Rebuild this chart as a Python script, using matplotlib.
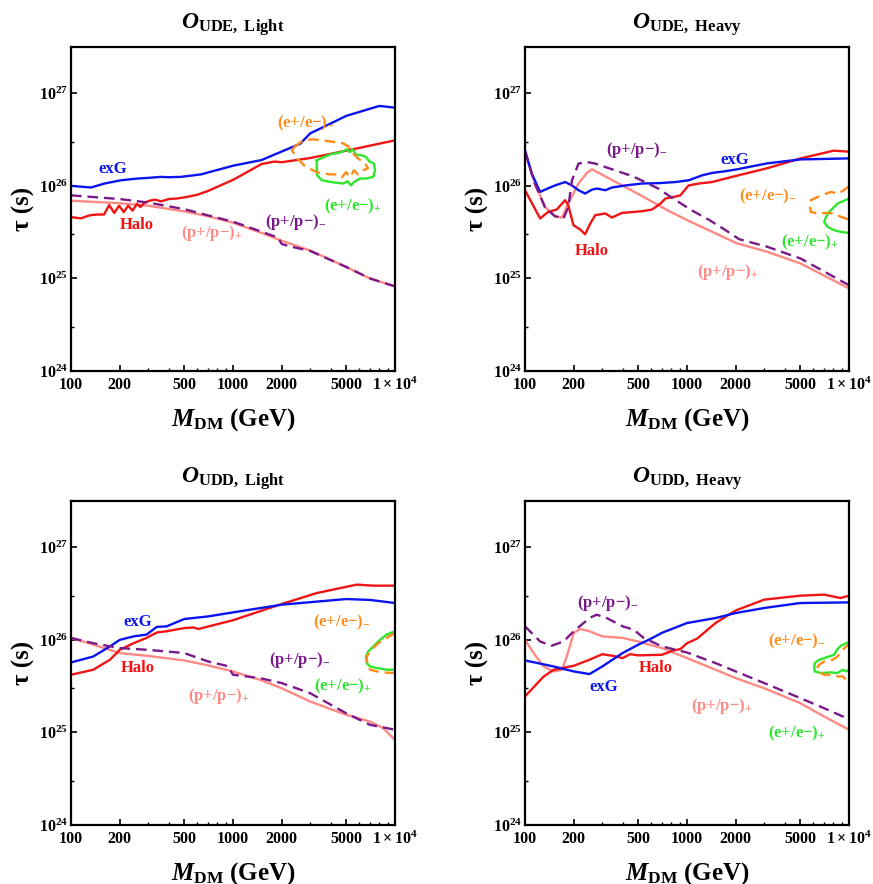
import numpy as np
import matplotlib
matplotlib.use('Agg')
import matplotlib.pyplot as plt
from matplotlib.ticker import NullFormatter

plt.rcParams['font.family'] = 'Liberation Serif'
plt.rcParams['font.weight'] = 'bold'
plt.rcParams['mathtext.fontset'] = 'custom'
plt.rcParams['mathtext.rm'] = 'Liberation Serif:bold'
plt.rcParams['mathtext.it'] = 'Liberation Serif:italic:bold'
plt.rcParams['mathtext.bf'] = 'Liberation Serif:bold'

# colours
c_exg = '#0a14f0'
c_halo = '#f01414'
c_pp_plus = '#ff8a85'
c_pp_minus = '#7a1a8a'
c_ee_minus = '#ff8c1a'
c_ee_plus = '#2ee62e'

# ---------------- O_UDE, Light ----------------
ude_l_exg_m = [100, 133, 161, 204, 258, 300, 359, 400, 477, 634, 1000, 1500, 2000, 2600, 3000, 3300, 5000, 8000, 10000]
ude_l_exg_t = [1.0e26, 9.6e25, 1.06e26, 1.15e26, 1.2e26, 1.22e26, 1.25e26, 1.24e26, 1.25e26, 1.33e26, 1.65e26, 1.9e26,
               2.35e26, 2.85e26, 3.7e26, 4.0e26, 5.7e26, 7.3e26, 7.0e26]
ude_l_halo_m = [100, 115, 130, 145, 160, 172, 185, 198, 212, 225, 240, 255, 268, 285, 305, 330, 360, 400, 450, 500,
                600, 700, 1000, 1500, 1800, 2000, 3000, 5000, 10000]
ude_l_halo_t = [4.6e25, 4.45e25, 4.8e25, 4.9e25, 4.9e25, 6.2e25, 5.1e25, 6.1e25, 5.2e25, 6.1e25, 5.4e25, 6.4e25,
                5.9e25, 6.6e25, 6.9e25, 7.1e25, 6.8e25, 7.2e25, 7.3e25, 7.5e25, 8.0e25, 8.8e25, 1.16e26, 1.72e26,
                1.83e26, 1.8e26, 2.0e26, 2.4e26, 3.1e26]
ude_l_ppp_m = [100, 200, 300, 500, 700, 1000, 1500, 2000, 3000, 5000, 7000, 10000]
ude_l_ppp_t = [6.9e25, 6.5e25, 6.1e25, 5.3e25, 4.7e25, 4.0e25, 3.1e25, 2.55e25, 2.0e25, 1.33e25, 1.0e25, 8.2e24]
ude_l_ppm_m = [100, 200, 300, 500, 700, 1000, 1500, 1900, 2000, 2300, 3000, 5000, 7000, 10000]
ude_l_ppm_t = [7.9e25, 7.2e25, 6.6e25, 5.6e25, 4.8e25, 4.1e25, 3.2e25, 2.75e25, 2.35e25, 2.2e25, 1.98e25, 1.33e25,
               1.0e25, 8.2e24]
ude_l_eem_m = [2380, 2705, 3118, 3970, 4775, 5129, 5427, 5910, 6531, 6812, 6345, 5910, 5582, 5275, 4985, 4709, 4447,
               3970, 3301, 2782, 2485, 2313, 2380]
ude_l_eem_t = [2.61e26, 3.10e26, 3.18e26, 3.03e26, 2.88e26, 2.68e26, 2.30e26, 1.98e26, 1.75e26, 1.55e26, 1.47e26,
               1.33e26, 1.47e26, 1.24e26, 1.40e26, 1.24e26, 1.33e26, 1.33e26, 1.40e26, 1.63e26, 1.98e26, 2.42e26,
               2.61e26]
ude_l_eep_m = [3288, 3970, 4690, 5030, 5275, 5480, 5745, 6225, 6620, 6940, 7415, 7530, 7345, 6620, 6080, 5580, 5350,
               5105, 4795, 4160, 3530, 3310, 3288, 3288]
ude_l_eep_t = [1.89e26, 2.18e26, 2.32e26, 2.48e26, 2.32e26, 2.48e26, 2.18e26, 2.14e26, 2.05e26, 1.84e26, 1.74e26,
               1.47e26, 1.25e26, 1.20e26, 1.20e26, 1.10e26, 1.01e26, 1.12e26, 1.06e26, 1.09e26, 1.15e26, 1.30e26,
               1.60e26, 1.89e26]

# ---------------- O_UDE, Heavy ----------------
ude_h_exg_m = [100, 110, 124, 133, 153, 177, 195, 214, 235, 259, 278, 313, 344, 416, 528, 669, 849, 1026, 1242, 1432,
               1731, 2040, 3125, 5025, 10000]
ude_h_exg_t = [2.42e26, 1.36e26, 8.6e25, 9.1e25, 1.01e26, 1.10e26, 1.01e26, 8.97e25, 8.26e25, 9.1e25, 9.35e25,
               8.97e25, 9.6e25, 1.01e26, 1.06e26, 1.07e26, 1.10e26, 1.15e26, 1.30e26, 1.38e26, 1.44e26, 1.51e26,
               1.75e26, 1.93e26, 1.98e26]
ude_h_halo_m = [100, 124, 139, 157, 177, 185, 199, 219, 235, 253, 271, 313, 344, 397, 528, 609, 686, 736, 829, 910,
                1023, 1183, 1431, 1731, 2040, 3125, 5025, 8050, 10000]
ude_h_halo_t = [8.97e25, 4.44e25, 5.23e25, 5.55e25, 7.0e25, 6.18e25, 3.76e25, 3.38e25, 3.0e25, 3.92e25, 4.82e25,
                5.03e25, 4.55e25, 5.1e25, 5.32e25, 5.55e25, 6.44e25, 7.29e25, 7.59e25, 7.9e25, 1.01e26, 1.06e26,
                1.10e26, 1.2e26, 1.29e26, 1.55e26, 1.98e26, 2.4e26, 2.34e26]
ude_h_ppp_m = [100, 115, 133, 153, 169, 185, 214, 241, 259, 468, 789, 1000, 2037, 3125, 5025, 10000]
ude_h_ppp_t = [2.32e26, 1.06e26, 5.92e25, 4.7e25, 4.55e25, 6.44e25, 1.06e26, 1.38e26, 1.51e26, 8.7e25, 5.25e25,
               4.27e25, 2.39e25, 1.94e25, 1.45e25, 7.8e24]
ude_h_ppm_m = [100, 115, 133, 153, 173, 185, 195, 214, 241, 271, 468, 669, 810, 1077, 1365, 1731, 2100, 3125, 5025,
               10000]
ude_h_ppm_t = [2.38e26, 1.06e26, 5.83e25, 4.7e25, 4.44e25, 5.92e25, 1.15e26, 1.74e26, 1.81e26, 1.74e26, 1.26e26,
               9.3e25, 7.4e25, 5.4e25, 4.3e25, 3.32e25, 2.65e25, 2.2e25, 1.64e25, 8.45e24]
ude_h_eem_m = [10000, 9900, 9590, 9140, 8510, 7740, 7030, 6400, 5820, 5680, 5820, 6400, 7380, 8110, 8920, 9590, 10000]
ude_h_eem_t = [1.0e26, 9.73e25, 9.35e25, 8.81e25, 8.26e25, 8.6e25, 8.12e25, 7.59e25, 7.0e25, 6.44e25, 5.23e25,
               5.03e25, 5.1e25, 5.03e25, 4.62e25, 4.44e25, 4.26e25]
ude_h_eep_m = [10000, 8510, 7550, 7210, 7030, 7380, 8110, 8920, 10000]
ude_h_eep_t = [7.29e25, 6.44e25, 5.23e25, 4.62e25, 4.08e25, 3.6e25, 3.32e25, 3.18e25, 3.1e25]

# ---------------- O_UDD, Light ----------------
udd_l_exg_m = [100, 137, 174, 200, 243, 293, 338, 390, 500, 700, 1000, 2000, 5000, 7000, 10000]
udd_l_exg_t = [5.7e25, 6.6e25, 8.5e25, 1.0e26, 1.09e26, 1.14e26, 1.38e26, 1.40e26, 1.68e26, 1.79e26, 1.98e26,
               2.4e26, 2.76e26, 2.7e26, 2.5e26]
udd_l_halo_m = [100, 137, 174, 200, 243, 293, 338, 390, 500, 569, 611, 1000, 2000, 3280, 5800, 7350, 10000]
udd_l_halo_t = [4.2e25, 4.75e25, 6.1e25, 7.8e25, 9.2e25, 1.05e26, 1.2e26, 1.24e26, 1.34e26, 1.36e26, 1.31e26,
                1.63e26, 2.44e26, 3.2e26, 3.95e26, 3.85e26, 3.85e26]
udd_l_ppp_m = [100, 137, 200, 300, 500, 700, 1000, 1468, 2000, 2985, 5000, 7000, 8470, 10000]
udd_l_ppp_t = [1.05e26, 8.9e25, 7.2e25, 6.7e25, 6.0e25, 5.3e25, 4.56e25, 3.7e25, 3.0e25, 2.16e25, 1.55e25, 1.31e25,
               1.11e25, 8.3e24]
udd_l_ppm_m = [100, 137, 200, 300, 500, 700, 850, 930, 1000, 1468, 2000, 2985, 5000, 7000, 10000]
udd_l_ppm_t = [1.05e26, 9.2e25, 8.15e25, 7.8e25, 7.2e25, 5.85e25, 5.4e25, 5.2e25, 4.2e25, 3.86e25, 3.41e25, 2.66e25,
               1.61e25, 1.21e25, 1.07e25]
udd_l_eem_m = [10000, 8890, 7890, 7180, 6690, 6750, 7015, 7710, 8470, 10000]
udd_l_eem_t = [1.19e26, 1.05e26, 9.25e25, 7.83e25, 6.6e25, 5.39e25, 4.76e25, 4.56e25, 4.45e25, 4.38e25]
udd_l_eep_m = [10000, 8890, 8080, 7345, 6840, 6620, 6690, 7015, 7710, 8890, 10000]
udd_l_eep_t = [1.24e26, 1.14e26, 1.0e26, 8.5e25, 7.5e25, 6.6e25, 5.6e25, 5.17e25, 4.97e25, 4.76e25, 4.76e25]

# ---------------- O_UDD, Heavy ----------------
udd_h_exg_m = [100, 150, 200, 250, 300, 400, 500, 593, 700, 1000, 1500, 2000, 3000, 5000, 10000]
udd_h_exg_t = [6.0e25, 5.16e25, 4.56e25, 4.27e25, 5.16e25, 7.2e25, 8.86e25, 1.02e26, 1.19e26, 1.52e26, 1.72e26,
               1.95e26, 2.21e26, 2.5e26, 2.54e26]
udd_h_halo_m = [100, 130, 150, 200, 250, 300, 352, 400, 446, 500, 700, 828, 911, 1000, 1153, 1500, 2000, 3000, 5000,
                7000, 8870, 10000]
udd_h_halo_t = [2.45e25, 4.0e25, 4.75e25, 5.25e25, 6.1e25, 7.0e25, 6.7e25, 6.35e25, 7.0e25, 6.8e25, 6.9e25, 7.7e25,
                7.95e25, 9.2e25, 1.03e26, 1.52e26, 2.08e26, 2.72e26, 3.0e26, 3.08e26, 2.83e26, 3.0e26]
udd_h_ppp_m = [100, 113, 130, 150, 169, 181, 200, 219, 250, 300, 400, 500, 700, 1000, 1500, 2000, 3000, 5000, 7000,
               10000]
udd_h_ppp_t = [1.0e26, 7.2e25, 5.16e25, 4.56e25, 4.75e25, 6.6e25, 1.19e26, 1.31e26, 1.24e26, 1.09e26, 1.05e26,
               9.6e25, 8.15e25, 6.35e25, 4.75e25, 3.86e25, 3.0e25, 2.07e25, 1.49e25, 1.07e25]
udd_h_ppm_m = [100, 124, 146, 173, 200, 250, 277, 320, 400, 468, 540, 700, 1000, 1500, 2000, 3000, 5000, 7000, 10000]
udd_h_ppm_t = [1.40e26, 9.6e25, 8.64e25, 9.6e25, 1.24e26, 1.72e26, 1.87e26, 1.72e26, 1.4e26, 1.29e26, 1.05e26,
               8.5e25, 7.3e25, 5.61e25, 4.56e25, 3.41e25, 2.35e25, 1.83e25, 1.39e25]
udd_h_eem_m = [10000, 9900, 9140, 8510, 7930, 7030, 6550, 6340, 6710, 7030, 7740, 8510, 9140, 9580, 10000]
udd_h_eem_t = [9.6e25, 8.87e25, 7.83e25, 6.63e25, 6.1e25, 5.85e25, 5.39e25, 4.96e25, 4.38e25, 4.2e25, 4.2e25,
               4.03e25, 4.03e25, 3.71e25, 3.65e25]
udd_h_eep_m = [9900, 8920, 8430, 8110, 7380, 6550, 6150, 6100, 6150, 6710, 7740, 8510, 9140, 9580, 10000]
udd_h_eep_t = [9.4e25, 8.65e25, 7.83e25, 6.92e25, 6.53e25, 6.1e25, 5.62e25, 4.96e25, 4.56e25, 4.38e25, 4.45e25,
               4.38e25, 4.76e25, 4.56e25, 4.76e25]

titles = [r'$O_{\mathrm{UDE,\ Light}}$', r'$O_{\mathrm{UDE,\ Heavy}}$',
          r'$O_{\mathrm{UDD,\ Light}}$', r'$O_{\mathrm{UDD,\ Heavy}}$']

lab_ee_minus = '(e+/e\u2212)$_{-}$'
lab_ee_plus = '(e+/e\u2212)$_{+}$'
lab_pp_minus = '(p+/p\u2212)$_{-}$'
lab_pp_plus = '(p+/p\u2212)$_{+}$'

# label anchor points (axes fraction) per panel: exG, Halo, pp+, pp-, ee-, ee+
label_pos = [
    [(0.130, 0.623), (0.204, 0.451), (0.435, 0.426), (0.694, 0.460), (0.725, 0.765), (0.870, 0.509)],
    [(0.647, 0.651), (0.205, 0.371), (0.627, 0.306), (0.344, 0.682), (0.750, 0.538), (0.879, 0.397)],
    [(0.205, 0.627), (0.205, 0.484), (0.455, 0.398), (0.707, 0.509), (0.835, 0.624), (0.840, 0.427)],
    [(0.243, 0.425), (0.403, 0.484), (0.606, 0.368), (0.256, 0.684), (0.840, 0.566), (0.840, 0.283)],
]

panels = [
    (ude_l_exg_m, ude_l_exg_t, ude_l_halo_m, ude_l_halo_t, ude_l_ppp_m, ude_l_ppp_t, ude_l_ppm_m, ude_l_ppm_t,
     ude_l_eem_m, ude_l_eem_t, ude_l_eep_m, ude_l_eep_t),
    (ude_h_exg_m, ude_h_exg_t, ude_h_halo_m, ude_h_halo_t, ude_h_ppp_m, ude_h_ppp_t, ude_h_ppm_m, ude_h_ppm_t,
     ude_h_eem_m, ude_h_eem_t, ude_h_eep_m, ude_h_eep_t),
    (udd_l_exg_m, udd_l_exg_t, udd_l_halo_m, udd_l_halo_t, udd_l_ppp_m, udd_l_ppp_t, udd_l_ppm_m, udd_l_ppm_t,
     udd_l_eem_m, udd_l_eem_t, udd_l_eep_m, udd_l_eep_t),
    (udd_h_exg_m, udd_h_exg_t, udd_h_halo_m, udd_h_halo_t, udd_h_ppp_m, udd_h_ppp_t, udd_h_ppm_m, udd_h_ppm_t,
     udd_h_eem_m, udd_h_eem_t, udd_h_eep_m, udd_h_eep_t),
]

x_ticks = [100, 200, 500, 1000, 2000, 5000, 10000]
x_ticklabels = ['100', '200', '500', '1000', '2000', '5000', r'$1\times10^{4}$']
x_minor = [300, 400, 600, 700, 800, 900, 3000, 4000, 6000, 7000, 8000, 9000]
y_ticks = [1e24, 1e25, 1e26, 1e27]
y_ticklabels = [r'$10^{24}$', r'$10^{25}$', r'$10^{26}$', r'$10^{27}$']
y_minor = [3e24, 3e25, 3e26]

fig = plt.figure(figsize=(8.73, 8.84), dpi=100)
w, h = 324 / 873, 324 / 884
rects = [(71 / 873, 1 - 371 / 884), (525 / 873, 1 - 371 / 884),
         (71 / 873, 1 - 825 / 884), (525 / 873, 1 - 825 / 884)]

dash = (0, (4.5, 2.5))
lw = 1.7

for i, (l, b) in enumerate(rects):
    ax = fig.add_axes([l, b, w, h])
    (exg_m, exg_t, halo_m, halo_t, ppp_m, ppp_t, ppm_m, ppm_t, eem_m, eem_t, eep_m, eep_t) = panels[i]
    ax.plot(ppp_m, ppp_t, color=c_pp_plus, lw=lw)
    ax.plot(halo_m, halo_t, color=c_halo, lw=lw)
    ax.plot(exg_m, exg_t, color=c_exg, lw=lw)
    ax.plot(ppm_m, ppm_t, color=c_pp_minus, lw=lw, ls=dash)
    ax.plot(eep_m, eep_t, color=c_ee_plus, lw=lw)
    ax.plot(eem_m, eem_t, color=c_ee_minus, lw=lw, ls=dash)

    ax.set_xscale('log')
    ax.set_yscale('log')
    ax.set_xlim(100, 10000)
    ax.set_ylim(1e24, 10 ** 27.5)
    ax.set_xticks(x_ticks)
    ax.set_xticklabels(x_ticklabels)
    ax.set_xticks(x_minor, minor=True)
    ax.set_yticks(y_ticks)
    ax.set_yticklabels(y_ticklabels)
    ax.set_yticks(y_minor, minor=True)
    ax.xaxis.set_minor_formatter(NullFormatter())
    ax.yaxis.set_minor_formatter(NullFormatter())
    ax.tick_params(which='both', direction='in', top=False, right=False, labelsize=11.5)
    ax.tick_params(which='major', length=4, width=1.2)
    ax.tick_params(which='minor', length=2.5, width=1.0)
    ax.tick_params(axis='x', pad=4)
    ax.tick_params(axis='y', pad=2)
    for s in ax.spines.values():
        s.set_linewidth(1.6)

    ax.set_xlabel(r'$M_{\mathrm{DM}}$ (GeV)', fontsize=18, fontweight='bold')
    ax.xaxis.set_label_coords(0.5, -0.11)
    ax.set_ylabel('\u03c4 (s)', fontsize=18, fontweight='bold')
    ax.yaxis.set_label_coords(-0.11, 0.5)
    ax.text(0.5, 1.057, titles[i], transform=ax.transAxes, ha='center', va='baseline', fontsize=17)

    pos = label_pos[i]
    texts = [('exG', c_exg), ('Halo', c_halo), (lab_pp_plus, c_pp_plus), (lab_pp_minus, c_pp_minus),
             (lab_ee_minus, c_ee_minus), (lab_ee_plus, c_ee_plus)]
    for (txt, col), (fx, fy) in zip(texts, pos):
        ax.text(fx, fy, txt, color=col, transform=ax.transAxes, ha='center', va='center',
                fontsize=12, fontweight='bold')

fig.savefig('out.png', dpi=100)
